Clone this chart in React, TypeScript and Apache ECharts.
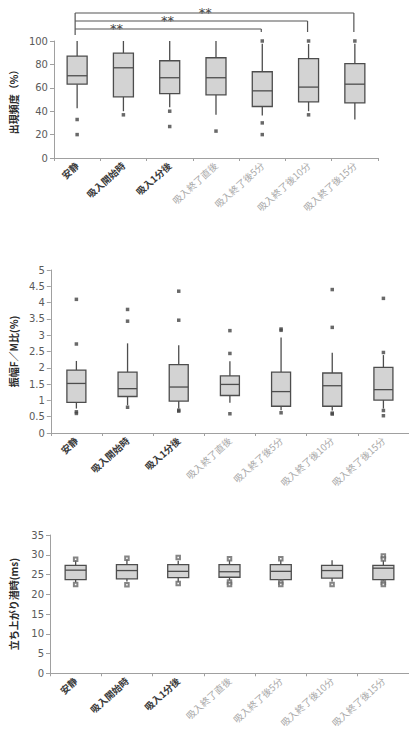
import React, { useEffect, useRef } from "react";
import * as echarts from "echarts";

const categories = ["安静", "吸入開始時", "吸入1分後", "吸入終了直後", "吸入終了後5分", "吸入終了後10分", "吸入終了後15分"];

// [min, Q1, median, Q3, max]
const freqBoxes = [
  [42.6, 63.1, 70.3, 87.1, 100],
  [40, 52.3, 77.1, 89.7, 100],
  [43.4, 55.1, 68.6, 83.1, 100],
  [36.9, 54, 68.6, 85.7, 100],
  [36.3, 44, 57.4, 73.7, 97.7],
  [40, 48, 60.6, 84.9, 97.4],
  [32.9, 47.1, 63.1, 80.6, 97.7],
];
const freqOutliers = [
  [0, 32.9], [0, 20], [1, 36.9], [2, 40], [2, 26.9], [3, 23],
  [4, 100], [4, 30], [4, 20], [5, 100], [5, 36.9], [6, 100],
];

const ampBoxes = [
  [0.75, 0.94, 1.52, 1.93, 2.21],
  [0.85, 1.12, 1.36, 1.87, 2.75],
  [0.75, 0.98, 1.41, 2.1, 2.69],
  [0.93, 1.15, 1.49, 1.75, 2.2],
  [0.7, 0.82, 1.27, 1.87, 2.93],
  [0.69, 0.82, 1.45, 1.84, 2.46],
  [0.75, 1.01, 1.33, 2.01, 2.39],
];
const ampOutliers = [
  [0, 4.1], [0, 2.73], [0, 0.65], [0, 0.6],
  [1, 3.79], [1, 3.43], [1, 0.79],
  [2, 4.35], [2, 3.46], [2, 0.7], [2, 0.67],
  [3, 3.14], [3, 2.44], [3, 0.59],
  [4, 3.19], [4, 3.15], [4, 0.62],
  [5, 4.4], [5, 3.24], [5, 0.61], [5, 0.58],
  [6, 4.13], [6, 2.47], [6, 0.69], [6, 0.53],
];

const latBoxes = [
  [23.0, 23.7, 26.1, 27.3, 28.5],
  [23.2, 23.9, 26.0, 27.5, 28.7],
  [23.1, 24.2, 25.8, 27.5, 28.5],
  [23.5, 24.3, 25.7, 27.5, 28.6],
  [23.2, 23.7, 25.8, 27.5, 28.6],
  [23.2, 24.1, 26.0, 27.3, 28.6],
  [23.0, 23.7, 26.6, 27.3, 28.6],
];
const latOutliers = [
  [0, 28.85], [0, 22.5], [1, 29.1], [1, 22.4], [2, 29.3], [2, 22.7],
  [3, 29.0], [3, 23.1], [3, 22.5], [4, 29.0], [4, 23.1], [4, 22.5],
  [5, 22.5], [6, 29.7], [6, 28.9], [6, 23.0], [6, 22.5],
];

// significance brackets (outermost first): [from category, to category]
const sigPairs = [
  [0, 6],
  [0, 5],
  [0, 4],
];
const sigLabel = "**";
const starPos = [2.77, 1.95, 0.85];

const yTitles = ["出現頻度（%）", "振幅F／M比(%)", "立ち上がり潜時(ms)"];

const NUM_FONT = "DejaVu Sans, sans-serif";
const JP_FONT = "'Noto Sans CJK JP', sans-serif";
const BOX_STROKE = "#4d4d4d";
const BOX_FILL = "#d3d3d3";
const AXIS_COLOR = "#a0a0a0";

function boxRenderer(w: number) {
  return (params: any, api: any) => {
    const i = api.value(0);
    const lo = api.coord([i, api.value(1)]);
    const q1 = api.coord([i, api.value(2)]);
    const md = api.coord([i, api.value(3)]);
    const q3 = api.coord([i, api.value(4)]);
    const hi = api.coord([i, api.value(5)]);
    const cx = lo[0];
    const ls = { stroke: BOX_STROKE, lineWidth: 1.3 };
    return {
      type: "group",
      children: [
        { type: "line", shape: { x1: cx, y1: lo[1], x2: cx, y2: q1[1] }, style: ls },
        { type: "line", shape: { x1: cx, y1: q3[1], x2: cx, y2: hi[1] }, style: ls },
        {
          type: "rect",
          shape: { x: cx - w / 2, y: q3[1], width: w, height: q1[1] - q3[1] },
          style: { fill: BOX_FILL, stroke: BOX_STROKE, lineWidth: 1.3 },
        },
        { type: "line", shape: { x1: cx - w / 2, y1: md[1], x2: cx + w / 2, y2: md[1] }, style: ls },
      ],
    };
  };
}

function bracketRenderer(params: any, api: any) {
  const idx = params.dataIndex;
  const from = api.value(0);
  const to = api.value(1);
  const base = api.coord([0, 100]);
  const step = api.coord([1, 100])[0] - base[0];
  const top = base[1];
  const n = sigPairs.length;
  const yLine = top - (12 + 8 * (n - 1 - idx));
  const x1 = api.coord([from, 100])[0] - 2;
  const x2 = api.coord([to, 100])[0] - 1;
  const ls = { stroke: "#555", lineWidth: 1.2 };
  const children: any[] = [
    { type: "line", shape: { x1, y1: yLine, x2, y2: yLine }, style: ls },
    { type: "line", shape: { x1: x2, y1: yLine, x2, y2: top - 9 }, style: ls },
    {
      type: "text",
      x: base[0] + starPos[idx] * step,
      y: yLine - 1,
      style: { text: sigLabel, align: "center", verticalAlign: "middle", fontSize: 13, fill: "#444", fontFamily: NUM_FONT },
    },
  ];
  if (idx === 0) {
    children.push({ type: "line", shape: { x1, y1: yLine, x2: x1, y2: top - 6 }, style: ls });
  }
  return { type: "group", children };
}

function xAxisDef(gridIndex: number) {
  return {
    type: "category",
    gridIndex,
    data: categories,
    boundaryGap: true,
    axisLine: { lineStyle: { color: AXIS_COLOR, width: 1 } },
    axisTick: { show: true, length: 3, lineStyle: { color: AXIS_COLOR } },
    axisLabel: {
      rotate: 42,
      margin: 6,
      interval: 0,
      formatter: (v: string, i: number) => (i < 3 ? `{d|${v}}` : `{l|${v}}`),
      rich: {
        d: { fontSize: 9.5, fontWeight: "bold", color: "#3a3a3a", fontFamily: JP_FONT },
        l: { fontSize: 9.5, color: "#a8a8a8", fontFamily: JP_FONT },
      },
    },
  };
}

function yAxisDef(gridIndex: number, max: number, interval: number, name: string, nameGap: number) {
  return {
    type: "value",
    gridIndex,
    min: 0,
    max,
    interval,
    name,
    nameLocation: "middle",
    nameGap,
    nameTextStyle: { fontSize: 10, fontWeight: "bold", color: "#2a2a2a", fontFamily: JP_FONT },
    splitLine: { show: false },
    axisLine: { show: true, lineStyle: { color: AXIS_COLOR, width: 1 } },
    axisTick: { show: true, length: 4, lineStyle: { color: AXIS_COLOR } },
    axisLabel: { fontSize: 10, color: "#5a5a5a", margin: 6, fontFamily: NUM_FONT },
  };
}

export default function App() {
  const ref = useRef<HTMLDivElement>(null);
  useEffect(() => {
    document.body.style.margin = "0";
    const chart = echarts.init(ref.current!, null, { renderer: "svg" });
    const toBox = (b: number[][]) => b.map((r, i) => [i, ...r]);
    chart.setOption({
      animation: false,
      backgroundColor: "#ffffff",
      grid: [
        { left: 39, top: 41, width: 339, height: 117 },
        { left: 45, top: 270, width: 364, height: 163 },
        { left: 49, top: 535, width: 360, height: 151 },
      ],
      xAxis: [xAxisDef(0), xAxisDef(1), xAxisDef(2)],
      yAxis: [
        yAxisDef(0, 100, 20, yTitles[0], 24),
        yAxisDef(1, 5, 0.5, yTitles[1], 30),
        yAxisDef(2, 35, 5, yTitles[2], 32),
      ],
      series: [
        {
          type: "custom",
          xAxisIndex: 0,
          yAxisIndex: 0,
          data: toBox(freqBoxes),
          encode: { x: 0, y: [1, 2, 3, 4, 5] },
          renderItem: boxRenderer(20),
          silent: true,
        },
        {
          type: "scatter",
          xAxisIndex: 0,
          yAxisIndex: 0,
          data: freqOutliers,
          symbol: "rect",
          symbolSize: 3.5,
          itemStyle: { color: "#444" },
          silent: true,
        },
        {
          type: "custom",
          xAxisIndex: 0,
          yAxisIndex: 0,
          data: sigPairs,
          encode: { x: 0, y: 1 },
          renderItem: bracketRenderer,
          clip: false,
          silent: true,
          z: 10,
        },
        {
          type: "custom",
          xAxisIndex: 1,
          yAxisIndex: 1,
          data: toBox(ampBoxes),
          encode: { x: 0, y: [1, 2, 3, 4, 5] },
          renderItem: boxRenderer(19),
          silent: true,
        },
        {
          type: "scatter",
          xAxisIndex: 1,
          yAxisIndex: 1,
          data: ampOutliers,
          symbol: "rect",
          symbolSize: 3.5,
          itemStyle: { color: "#444" },
          silent: true,
        },
        {
          type: "custom",
          xAxisIndex: 2,
          yAxisIndex: 2,
          data: toBox(latBoxes),
          encode: { x: 0, y: [1, 2, 3, 4, 5] },
          renderItem: boxRenderer(21),
          silent: true,
        },
        {
          type: "scatter",
          xAxisIndex: 2,
          yAxisIndex: 2,
          data: latOutliers,
          symbol: "emptyRect",
          symbolSize: 3.5,
          itemStyle: { color: "#666", borderColor: "#666", borderWidth: 1 },
          silent: true,
          z: 5,
        },
      ],
    });
    return () => chart.dispose();
  }, []);
  return <div ref={ref} style={{ width: 409, height: 730 }} />;
}
